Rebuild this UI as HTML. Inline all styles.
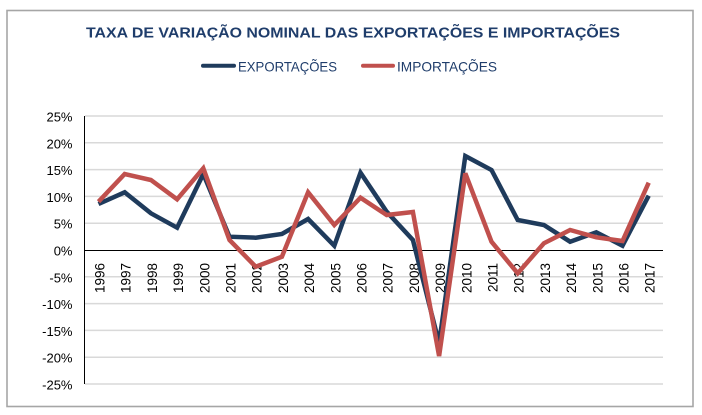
<!DOCTYPE html>
<html><head><meta charset="utf-8"><style>
html,body{margin:0;padding:0;background:#fff;}
svg{display:block;}
text{font-family:"Liberation Sans",Arial,sans-serif;}
</style></head><body>
<svg width="702" height="415" viewBox="0 0 702 415" xmlns="http://www.w3.org/2000/svg">
<rect x="0" y="0" width="702" height="415" fill="#fff"/>
<rect x="7" y="10.5" width="686" height="396" fill="#fff" stroke="#a6a6a6" stroke-width="1.6"/>
<text x="86" y="37.5" font-size="14.5" font-weight="bold" fill="#1f3d6b" textLength="534" lengthAdjust="spacingAndGlyphs">TAXA DE VARIAÇÃO NOMINAL DAS EXPORTAÇÕES E IMPORTAÇÕES</text>
<line x1="203" y1="65.7" x2="234" y2="65.7" stroke="#1f3b5c" stroke-width="4" stroke-linecap="round"/>
<text x="238" y="71.5" font-size="14" fill="#1f3d6b" textLength="99" lengthAdjust="spacingAndGlyphs">EXPORTAÇÕES</text>
<line x1="363" y1="65.7" x2="393" y2="65.7" stroke="#c0504d" stroke-width="4" stroke-linecap="round"/>
<text x="397" y="71.5" font-size="14" fill="#1f3d6b" textLength="100" lengthAdjust="spacingAndGlyphs">IMPORTAÇÕES</text>
<g stroke="#d9d9d9" stroke-width="1.5">
<line x1="85" x2="663" y1="116" y2="116"/>
<line x1="85" x2="663" y1="142.8" y2="142.8"/>
<line x1="85" x2="663" y1="169.6" y2="169.6"/>
<line x1="85" x2="663" y1="196.4" y2="196.4"/>
<line x1="85" x2="663" y1="223.2" y2="223.2"/>
<line x1="85" x2="663" y1="276.8" y2="276.8"/>
<line x1="85" x2="663" y1="303.6" y2="303.6"/>
<line x1="85" x2="663" y1="330.4" y2="330.4"/>
<line x1="85" x2="663" y1="357.2" y2="357.2"/>
<line x1="85" x2="663" y1="384" y2="384"/>
</g>
<line x1="84.5" y1="116" x2="84.5" y2="384" stroke="#000" stroke-width="1"/>
<line x1="84" y1="250.5" x2="663" y2="250.5" stroke="#000" stroke-width="1"/>
<g font-size="13" fill="#000" text-anchor="end">
<text x="72.5" y="121.5">25%</text>
<text x="72.5" y="148.3">20%</text>
<text x="72.5" y="175.1">15%</text>
<text x="72.5" y="201.9">10%</text>
<text x="72.5" y="228.7">5%</text>
<text x="72.5" y="255.5">0%</text>
<text x="72.5" y="282.3">-5%</text>
<text x="72.5" y="309.1">-10%</text>
<text x="72.5" y="335.9">-15%</text>
<text x="72.5" y="362.7">-20%</text>
<text x="72.5" y="389.5">-25%</text>
</g>
<g font-size="13.5" fill="#000" text-anchor="end">
<text transform="translate(104.5,263) rotate(-90)">1996</text>
<text transform="translate(130.7,263) rotate(-90)">1997</text>
<text transform="translate(156.9,263) rotate(-90)">1998</text>
<text transform="translate(183.1,263) rotate(-90)">1999</text>
<text transform="translate(209.3,263) rotate(-90)">2000</text>
<text transform="translate(235.5,263) rotate(-90)">2001</text>
<text transform="translate(261.7,263) rotate(-90)">2002</text>
<text transform="translate(287.9,263) rotate(-90)">2003</text>
<text transform="translate(314.1,263) rotate(-90)">2004</text>
<text transform="translate(340.3,263) rotate(-90)">2005</text>
<text transform="translate(366.5,263) rotate(-90)">2006</text>
<text transform="translate(392.7,263) rotate(-90)">2007</text>
<text transform="translate(418.9,263) rotate(-90)">2008</text>
<text transform="translate(445.1,263) rotate(-90)">2009</text>
<text transform="translate(471.3,263) rotate(-90)">2010</text>
<text transform="translate(497.5,263) rotate(-90)">2011</text>
<text transform="translate(523.7,263) rotate(-90)">2012</text>
<text transform="translate(549.9,263) rotate(-90)">2013</text>
<text transform="translate(576.1,263) rotate(-90)">2014</text>
<text transform="translate(602.3,263) rotate(-90)">2015</text>
<text transform="translate(628.5,263) rotate(-90)">2016</text>
<text transform="translate(654.7,263) rotate(-90)">2017</text>
</g>
<polyline fill="none" stroke="#1f3b5c" stroke-width="4.5" stroke-linejoin="miter" stroke-miterlimit="3"
points="98.5,204 124.7,192.3 150.9,213.3 177.1,227.7 203.3,174 229.5,236.7 255.7,237.7 281.9,234 308.1,219 334.3,245.7 360.5,172.7 386.7,211.7 412.9,240 439.1,343.3 465.3,156 491.5,170 517.7,220 543.9,225 570.1,241.7 596.3,232.3 622.5,245.7 648.7,195.7"/>
<polyline fill="none" stroke="#c0504d" stroke-width="4.5" stroke-linejoin="miter" stroke-miterlimit="3"
points="98.5,201.7 124.7,174 150.9,180 177.1,199.3 203.3,168.3 229.5,240 255.7,266.7 281.9,256.7 308.1,192.3 334.3,225 360.5,197.7 386.7,215 412.9,212 439.1,356 465.3,173.3 491.5,241.7 517.7,273.3 543.9,243.3 570.1,230 596.3,237.3 622.5,241 648.7,182.7"/>
</svg>
</body></html>
